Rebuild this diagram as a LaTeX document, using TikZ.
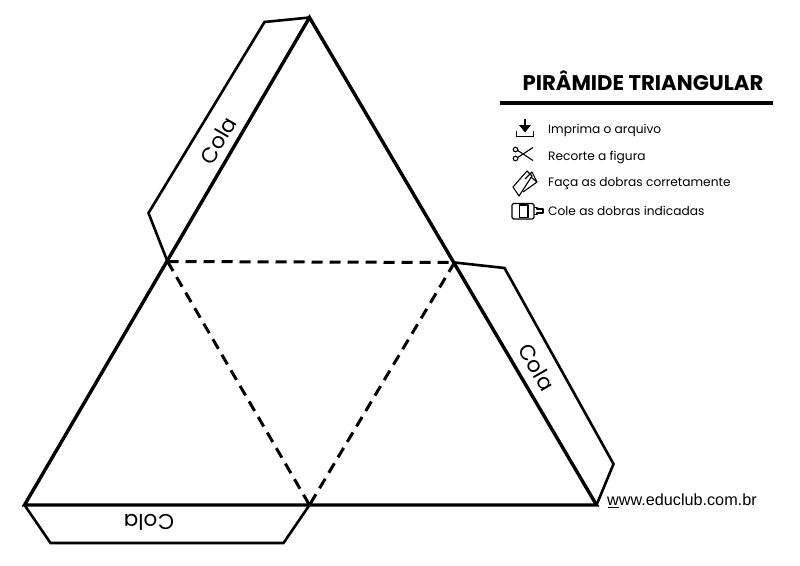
\documentclass[tikz,border=0pt]{standalone}
\usepackage{fontspec}
\setmainfont{Poppins}
\newfontfamily\urlfont{Liberation Sans}
\tikzset{
  cut/.style={line width=3.4pt,line join=miter},
  flap/.style={line width=2.6pt,line join=miter},
  fold/.style={line width=3pt,dash pattern=on 11pt off 7pt},
  cola/.style={font=\fontsize{21.5}{22}\selectfont},
  hint/.style={anchor=west,inner sep=0pt,font=\fontsize{12.2}{14}\selectfont},
  icon/.style={line width=1.1pt,line join=round}
}
\begin{document}
\begin{tikzpicture}[x=1pt,y=-1pt]
  \useasboundingbox (0,0) rectangle (800,565);
  % triangle
  \coordinate (apex) at (309.5,17.5);
  \coordinate (left) at (167.5,261.5);
  \coordinate (right) at (454.5,262.5);
  \coordinate (bl) at (24.5,505);
  \coordinate (bm) at (309.5,505);
  \coordinate (br) at (596.5,505);
  % flaps
  \coordinate (f1) at (264.5,22);
  \coordinate (f2) at (148.5,213);
  \coordinate (f3) at (504.5,268);
  \coordinate (f4) at (613.5,464);
  \coordinate (f5) at (50.5,543);
  \coordinate (f6) at (283.5,543);
  \draw[flap] (apex) -- (f1) -- (f2) -- (left);
  \draw[flap] (right) -- (f3) -- (f4) -- (br);
  \draw[flap] (bl) -- (f5) -- (f6) -- (bm);
  \draw[cut] (bl) -- (apex) -- (br) -- cycle;
  \begin{scope}[fold]
    \draw (left) to (right);
    \draw (left) to (bm);
    \draw (right) to (bm);
  \end{scope}
  \node[cola,rotate=60] (cola1) at (218,140.5) {Cola};
  \node[cola,rotate=-60] (cola2) at (537,367) {Cola};
  \node[cola,rotate=180] (cola3) at (149,522) {Cola};
  % title
  \node[font=\fontsize{21.2}{23}\bfseries] (title) at (643,80.5) {PIRÂMIDE TRIANGULAR};
  \coordinate (r1) at (500,103);
  \coordinate (r2) at (773,103);
  \draw[line width=3.2pt] (r1) -- (r2);
  \node[hint] (h1) at (548,130) {Imprima o arquivo};
  \node[hint] (h2) at (548,157) {Recorte a figura};
  \node[hint] (h3) at (548,184) {Faça as dobras corretamente};
  \node[hint] (h4) at (548,211) {Cole as dobras indicadas};
  % download
  \draw[line width=2.8pt] (525,118.5) -- (525,127);
  \fill (519,125) -- (531,125) -- (525,132.5) -- cycle;
  \draw[line width=1.8pt] (516.5,131) -- (516.5,136.5) -- (533.5,136.5) -- (533.5,131);
  % scissors
  \draw[icon] (517,150) -- (533,160.5);
  \draw[icon] (517,158) -- (533,147.5);
  \draw[icon] (515.5,149.5) circle (2.3);
  \draw[icon] (515.5,158.5) circle (2.3);
  % folded sheet
  \draw[icon] (513,187) -- (527,171) -- (532,176) -- (519,196) -- cycle;
  \draw[icon] (525,179) -- (532,172) -- (537,182) -- (523,192);
  \draw[icon] (531,177) -- (537,182);
  % glue
  \draw[icon,rounded corners=1.5pt] (512,203.5) rectangle (534,219);
  \draw[icon] (519.5,205) rectangle (528,217.5);
  \draw[icon] (534,207.5) -- (537,207.5) -- (537,209) -- (543,209) -- (543,213) -- (537,213) -- (537,214.5) -- (534,214.5);
  % site
  \node[anchor=west,inner sep=0pt,font=\urlfont\fontsize{16.2}{18}\selectfont] (site) at (607,499.5) {www.educlub.com.br};
  \coordinate (u1) at (608,507.5);
  \coordinate (u2) at (619,507.5);
  \draw[line width=1pt] (u1) -- (u2);
\end{tikzpicture}
\end{document}
